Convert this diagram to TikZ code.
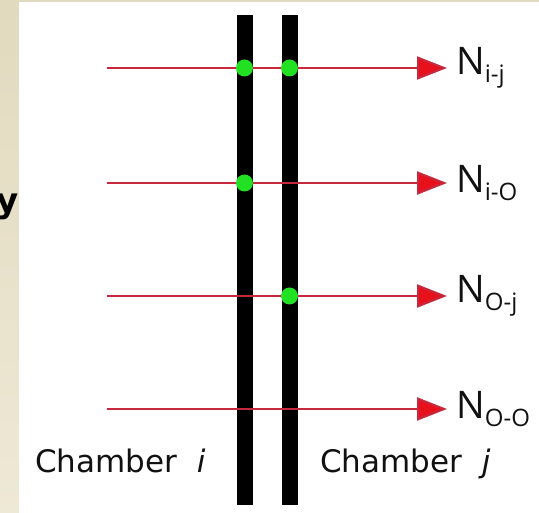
\documentclass[tikz,border=0pt]{standalone}
\usepackage{fontspec}
\setsansfont{DejaVu Sans}
\newfontfamily\labfont{Open Sans}
\usetikzlibrary{arrows.meta,positioning}
\definecolor{cBeige}{HTML}{E2DABE}
\definecolor{cBeigeL}{HTML}{EEE8D6}
\definecolor{cRay}{HTML}{C8283C}
\definecolor{cHead}{HTML}{E8101A}
\definecolor{cDot}{HTML}{22E022}
\definecolor{cInk}{HTML}{111111}
\tikzset{
  wall/.style={draw=none, fill=black, minimum width=16pt, minimum height=490pt, inner sep=0pt},
  hit/.style={circle, draw=none, fill=cDot, minimum size=17pt, inner sep=0pt},
  ray/.style={-{Triangle[length=30pt, width=23pt, fill=cHead]}, line width=2.2pt, draw=cRay, shorten >=9pt},
  nlab/.style={anchor=west, inner sep=0pt, text=cInk},
  chlab/.style={anchor=base west, inner sep=0pt, text=cInk, font=\sffamily\fontsize{31}{31}\selectfont},
}
\newcommand{\Nsub}[1]{{\labfont\fontsize{38}{38}\selectfont N}\raisebox{-8pt}{\labfont\fontsize{24}{24}\selectfont #1}}

\begin{document}
\begin{tikzpicture}[x=1pt,y=-1pt]
\useasboundingbox (0,0) rectangle (539,513);
% background
\shade[top color=cBeige, bottom color=cBeigeL] (0,0) rectangle (539,513);
\fill[white] (19,2) rectangle (539,513);
\node[anchor=base east, inner sep=0pt, font=\sffamily\bfseries\fontsize{34}{34}\selectfont] (ylet) at (19,213) {y};
% walls
\node[wall] (wi) at (244.5,260) {};
\node[wall] (wj) at (289.5,260) {};
% rays
\foreach \n/\yy/\s in {ij/68/i-j, io/183/i-O, oj/296/O-j, oo/409/O-O}{
  \coordinate (s\n) at (107,\yy);
  \node[nlab] (n\n) at (456,\yy) {\Nsub{\s}};
  \draw[ray] (s\n) -- (n\n.west);
}
% hits
\node[hit] (h1) at (wi |- sij) {};
\node[hit] (h2) at (wj |- sij) {};
\node[hit] (h3) at (wi |- sio) {};
\node[hit] (h4) at (wj |- soj) {};
% chambers
\node[chlab] (ci) at (35,473) {Chamber \ \textit{i}};
\node[chlab] (cj) at (320,473) {Chamber \ \textit{j}};
\end{tikzpicture}
\end{document}
